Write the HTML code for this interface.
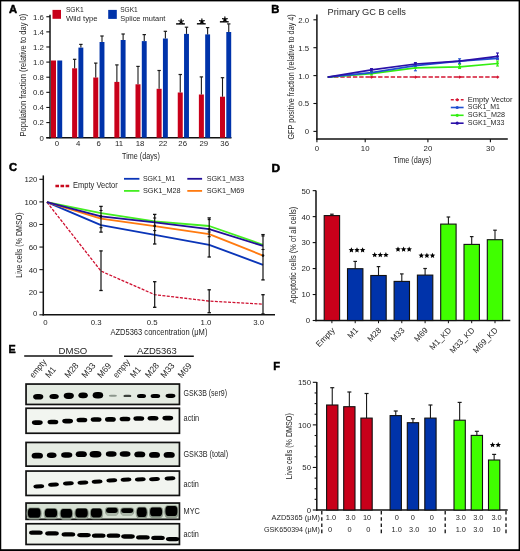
<!DOCTYPE html>
<html><head><meta charset="utf-8"><title>Figure</title>
<style>
html,body{margin:0;padding:0;background:#fff;}
body{width:520px;height:551px;overflow:hidden;}
svg{display:block;font-family:"Liberation Sans",sans-serif;filter:blur(0.35px);}
</style></head><body>
<svg width="520" height="551" viewBox="0 0 520 551">
<defs><filter id="bl" x="-20%" y="-50%" width="140%" height="200%"><feGaussianBlur stdDeviation="0.45"/></filter>
<filter id="bl2" x="-20%" y="-50%" width="140%" height="200%"><feGaussianBlur stdDeviation="0.6"/></filter></defs>
<rect width="520" height="551" fill="#fff"/>
<g fill="#262626">
<text x="8.9" y="13.3" font-size="11.2" font-weight="bold" fill="#000" stroke="#000" stroke-width="0.5">A</text>
<line x1="50" y1="14.8" x2="50" y2="138.4" stroke="#111" stroke-width="1.5" />
<line x1="46.3" y1="137.7" x2="231.5" y2="137.7" stroke="#111" stroke-width="1.5" />
<line x1="46.3" y1="137.7" x2="50" y2="137.7" stroke="#111" stroke-width="1.1" />
<text x="43.9" y="140.6" font-size="7.8" text-anchor="end">0</text>
<line x1="46.3" y1="122.58" x2="50" y2="122.58" stroke="#111" stroke-width="1.1" />
<text x="43.9" y="125.48" font-size="7.8" text-anchor="end">0.2</text>
<line x1="46.3" y1="107.46" x2="50" y2="107.46" stroke="#111" stroke-width="1.1" />
<text x="43.9" y="110.36" font-size="7.8" text-anchor="end">0.4</text>
<line x1="46.3" y1="92.34" x2="50" y2="92.34" stroke="#111" stroke-width="1.1" />
<text x="43.9" y="95.24" font-size="7.8" text-anchor="end">0.6</text>
<line x1="46.3" y1="77.22" x2="50" y2="77.22" stroke="#111" stroke-width="1.1" />
<text x="43.9" y="80.12" font-size="7.8" text-anchor="end">0.8</text>
<line x1="46.3" y1="62.1" x2="50" y2="62.1" stroke="#111" stroke-width="1.1" />
<text x="43.9" y="65" font-size="7.8" text-anchor="end">1.0</text>
<line x1="46.3" y1="46.98" x2="50" y2="46.98" stroke="#111" stroke-width="1.1" />
<text x="43.9" y="49.88" font-size="7.8" text-anchor="end">1.2</text>
<line x1="46.3" y1="31.86" x2="50" y2="31.86" stroke="#111" stroke-width="1.1" />
<text x="43.9" y="34.76" font-size="7.8" text-anchor="end">1.4</text>
<line x1="46.3" y1="16.74" x2="50" y2="16.74" stroke="#111" stroke-width="1.1" />
<text x="43.9" y="19.64" font-size="7.8" text-anchor="end">1.6</text>
<rect x="51" y="60.5" width="5" height="77.2" fill="#c8001a" />
<rect x="57.3" y="60.5" width="4.9" height="77.2" fill="#0033aa" />
<text x="56.9" y="146.4" font-size="7.8" text-anchor="middle">0</text>
<rect x="72.12" y="68.3" width="5" height="69.4" fill="#c8001a" />
<rect x="78.42" y="47.6" width="4.9" height="90.1" fill="#0033aa" />
<line x1="74.62" y1="59.3" x2="74.62" y2="68.3" stroke="#1a1a1a" stroke-width="1.1" />
<line x1="72.92" y1="59.3" x2="76.33" y2="59.3" stroke="#1a1a1a" stroke-width="1.2" />
<line x1="80.88" y1="44.4" x2="80.88" y2="47.6" stroke="#1a1a1a" stroke-width="1.1" />
<line x1="79.17" y1="44.4" x2="82.58" y2="44.4" stroke="#1a1a1a" stroke-width="1.2" />
<text x="78.1" y="146.4" font-size="7.8" text-anchor="middle">4</text>
<rect x="93.25" y="77.5" width="5" height="60.2" fill="#c8001a" />
<rect x="99.55" y="42" width="4.9" height="95.7" fill="#0033aa" />
<line x1="95.75" y1="63.1" x2="95.75" y2="77.5" stroke="#1a1a1a" stroke-width="1.1" />
<line x1="94.05" y1="63.1" x2="97.45" y2="63.1" stroke="#1a1a1a" stroke-width="1.2" />
<line x1="102" y1="36" x2="102" y2="42" stroke="#1a1a1a" stroke-width="1.1" />
<line x1="100.3" y1="36" x2="103.7" y2="36" stroke="#1a1a1a" stroke-width="1.2" />
<text x="98.7" y="146.4" font-size="7.8" text-anchor="middle">6</text>
<rect x="114.38" y="81.9" width="5" height="55.8" fill="#c8001a" />
<rect x="120.67" y="40" width="4.9" height="97.7" fill="#0033aa" />
<line x1="116.88" y1="64.9" x2="116.88" y2="81.9" stroke="#1a1a1a" stroke-width="1.1" />
<line x1="115.17" y1="64.9" x2="118.58" y2="64.9" stroke="#1a1a1a" stroke-width="1.2" />
<line x1="123.12" y1="34" x2="123.12" y2="40" stroke="#1a1a1a" stroke-width="1.1" />
<line x1="121.42" y1="34" x2="124.83" y2="34" stroke="#1a1a1a" stroke-width="1.2" />
<text x="119" y="146.4" font-size="7.8" text-anchor="middle">11</text>
<rect x="135.5" y="84.3" width="5" height="53.4" fill="#c8001a" />
<rect x="141.8" y="41.1" width="4.9" height="96.6" fill="#0033aa" />
<line x1="138" y1="66.4" x2="138" y2="84.3" stroke="#1a1a1a" stroke-width="1.1" />
<line x1="136.3" y1="66.4" x2="139.7" y2="66.4" stroke="#1a1a1a" stroke-width="1.2" />
<line x1="144.25" y1="34.6" x2="144.25" y2="41.1" stroke="#1a1a1a" stroke-width="1.1" />
<line x1="142.55" y1="34.6" x2="145.95" y2="34.6" stroke="#1a1a1a" stroke-width="1.2" />
<text x="140" y="146.4" font-size="7.8" text-anchor="middle">18</text>
<rect x="156.62" y="88.8" width="5" height="48.9" fill="#c8001a" />
<rect x="162.93" y="38.5" width="4.9" height="99.2" fill="#0033aa" />
<line x1="159.12" y1="70.5" x2="159.12" y2="88.8" stroke="#1a1a1a" stroke-width="1.1" />
<line x1="157.43" y1="70.5" x2="160.82" y2="70.5" stroke="#1a1a1a" stroke-width="1.2" />
<line x1="165.38" y1="31.3" x2="165.38" y2="38.5" stroke="#1a1a1a" stroke-width="1.1" />
<line x1="163.68" y1="31.3" x2="167.07" y2="31.3" stroke="#1a1a1a" stroke-width="1.2" />
<text x="163.1" y="146.4" font-size="7.8" text-anchor="middle">22</text>
<rect x="177.75" y="92.5" width="5" height="45.2" fill="#c8001a" />
<rect x="184.05" y="33.9" width="4.9" height="103.8" fill="#0033aa" />
<line x1="180.25" y1="74.5" x2="180.25" y2="92.5" stroke="#1a1a1a" stroke-width="1.1" />
<line x1="178.55" y1="74.5" x2="181.95" y2="74.5" stroke="#1a1a1a" stroke-width="1.2" />
<line x1="186.5" y1="27.2" x2="186.5" y2="33.9" stroke="#1a1a1a" stroke-width="1.1" />
<line x1="184.8" y1="27.2" x2="188.2" y2="27.2" stroke="#1a1a1a" stroke-width="1.2" />
<text x="182.7" y="146.4" font-size="7.8" text-anchor="middle">26</text>
<rect x="198.88" y="94.5" width="5" height="43.2" fill="#c8001a" />
<rect x="205.18" y="34.4" width="4.9" height="103.3" fill="#0033aa" />
<line x1="201.38" y1="76.9" x2="201.38" y2="94.5" stroke="#1a1a1a" stroke-width="1.1" />
<line x1="199.68" y1="76.9" x2="203.07" y2="76.9" stroke="#1a1a1a" stroke-width="1.2" />
<line x1="207.62" y1="27.6" x2="207.62" y2="34.4" stroke="#1a1a1a" stroke-width="1.1" />
<line x1="205.93" y1="27.6" x2="209.32" y2="27.6" stroke="#1a1a1a" stroke-width="1.2" />
<text x="203.8" y="146.4" font-size="7.8" text-anchor="middle">29</text>
<rect x="220" y="96.7" width="5" height="41" fill="#c8001a" />
<rect x="226.3" y="32" width="4.9" height="105.7" fill="#0033aa" />
<line x1="222.5" y1="77.7" x2="222.5" y2="96.7" stroke="#1a1a1a" stroke-width="1.1" />
<line x1="220.8" y1="77.7" x2="224.2" y2="77.7" stroke="#1a1a1a" stroke-width="1.2" />
<line x1="228.75" y1="23.9" x2="228.75" y2="32" stroke="#1a1a1a" stroke-width="1.1" />
<line x1="227.05" y1="23.9" x2="230.45" y2="23.9" stroke="#1a1a1a" stroke-width="1.2" />
<text x="224.7" y="146.4" font-size="7.8" text-anchor="middle">36</text>
<line x1="176.1" y1="23.9" x2="184.9" y2="23.9" stroke="#111" stroke-width="1.5" />
<path d="M181.1 21.5L181.1 19M181.1 21.5L183.48 20.73M181.1 21.5L182.57 23.52M181.1 21.5L179.63 23.52M181.1 21.5L178.72 20.73" stroke="#000" stroke-width="1.15" stroke-linecap="round" fill="none"/>
<line x1="196.9" y1="23.8" x2="205.7" y2="23.8" stroke="#111" stroke-width="1.5" />
<path d="M201.9 21.4L201.9 18.9M201.9 21.4L204.28 20.63M201.9 21.4L203.37 23.42M201.9 21.4L200.43 23.42M201.9 21.4L199.52 20.63" stroke="#000" stroke-width="1.15" stroke-linecap="round" fill="none"/>
<line x1="219.9" y1="21.8" x2="228.7" y2="21.8" stroke="#111" stroke-width="1.5" />
<path d="M224.9 19.4L224.9 16.9M224.9 19.4L227.28 18.63M224.9 19.4L226.37 21.42M224.9 19.4L223.43 21.42M224.9 19.4L222.52 18.63" stroke="#000" stroke-width="1.15" stroke-linecap="round" fill="none"/>
<text x="122.1" y="158.8" font-size="9.9" textLength="37.7" lengthAdjust="spacingAndGlyphs">Time (days)</text>
<text x="26.2" y="136.4" font-size="9.6" textLength="122.6" lengthAdjust="spacingAndGlyphs" transform="rotate(-90 26.2 136.4)">Population fraction (relative to day 0)</text>
<rect x="52.5" y="9.9" width="8.5" height="8.9" fill="#c8001a" />
<text x="65.9" y="12.4" font-size="7.8" textLength="17.9" lengthAdjust="spacingAndGlyphs">SGK1</text>
<text x="65.9" y="20.8" font-size="7.8" textLength="31.7" lengthAdjust="spacingAndGlyphs">Wild type</text>
<rect x="108.2" y="9.9" width="8.6" height="9" fill="#0033aa" />
<text x="120.2" y="12.4" font-size="7.8" textLength="17.6" lengthAdjust="spacingAndGlyphs">SGK1</text>
<text x="120.2" y="21" font-size="7.8" textLength="45.2" lengthAdjust="spacingAndGlyphs">Splice mutant</text>
<text x="271.2" y="13" font-size="11.2" font-weight="bold" fill="#000" stroke="#000" stroke-width="0.5">B</text>
<text x="327.6" y="15" font-size="9.9" textLength="78.3" lengthAdjust="spacingAndGlyphs">Primary GC B cells</text>
<line x1="316.9" y1="14.4" x2="316.9" y2="139.8" stroke="#111" stroke-width="1.5" />
<line x1="316.2" y1="139.1" x2="507.8" y2="139.1" stroke="#111" stroke-width="1.5" />
<line x1="313.4" y1="19.8" x2="316.9" y2="19.8" stroke="#111" stroke-width="1.1" />
<text x="309.2" y="22.7" font-size="7.8" text-anchor="end">2.0</text>
<line x1="313.4" y1="47.7" x2="316.9" y2="47.7" stroke="#111" stroke-width="1.1" />
<text x="309.2" y="50.6" font-size="7.8" text-anchor="end">1.5</text>
<line x1="313.4" y1="75.6" x2="316.9" y2="75.6" stroke="#111" stroke-width="1.1" />
<text x="309.2" y="78.5" font-size="7.8" text-anchor="end">1.0</text>
<line x1="313.4" y1="103.5" x2="316.9" y2="103.5" stroke="#111" stroke-width="1.1" />
<text x="309.2" y="106.4" font-size="7.8" text-anchor="end">0.5</text>
<line x1="313.4" y1="131.4" x2="316.9" y2="131.4" stroke="#111" stroke-width="1.1" />
<text x="309.2" y="134.3" font-size="7.8" text-anchor="end">0</text>
<line x1="316.9" y1="139.1" x2="316.9" y2="142.2" stroke="#111" stroke-width="1.1" />
<text x="316.9" y="151.3" font-size="7.8" text-anchor="middle">0</text>
<line x1="365.2" y1="139.1" x2="365.2" y2="142.2" stroke="#111" stroke-width="1.1" />
<text x="365.2" y="151.3" font-size="7.8" text-anchor="middle">10</text>
<line x1="427.9" y1="139.1" x2="427.9" y2="142.2" stroke="#111" stroke-width="1.1" />
<text x="427.9" y="151.3" font-size="7.8" text-anchor="middle">20</text>
<line x1="490.4" y1="139.1" x2="490.4" y2="142.2" stroke="#111" stroke-width="1.1" />
<text x="490.4" y="151.3" font-size="7.8" text-anchor="middle">30</text>
<text x="393.5" y="163.1" font-size="9.9" textLength="37.9" lengthAdjust="spacingAndGlyphs">Time (days)</text>
<text x="293.6" y="139.6" font-size="9.6" textLength="125.4" lengthAdjust="spacingAndGlyphs" transform="rotate(-90 293.6 139.6)">GFP positive fraction (relative to day 4)</text>
<polyline points="327.7,77.1 371.5,77.1 415.4,77.1 459.6,77.1 497.5,77.1" fill="none" stroke="#d41432" stroke-width="1.5" stroke-linejoin="round" stroke-dasharray="4.4 1.9"/>
<path d="M369.5 77.1 l2 -1.6 l2 1.6 l-2 1.6z" fill="#d41432"/>
<path d="M413.4 77.1 l2 -1.6 l2 1.6 l-2 1.6z" fill="#d41432"/>
<path d="M457.6 77.1 l2 -1.6 l2 1.6 l-2 1.6z" fill="#d41432"/>
<path d="M495.5 77.1 l2 -1.6 l2 1.6 l-2 1.6z" fill="#d41432"/>
<polyline points="327.7,77.1 371.5,73.7 415.4,67.9 459.6,66.9 497.5,63.5" fill="none" stroke="#33ee11" stroke-width="1.7" stroke-linejoin="round" />
<polyline points="327.7,77.1 371.5,72.7 415.4,65.6 459.6,61.2 497.5,58.3" fill="none" stroke="#1f4fd0" stroke-width="1.7" stroke-linejoin="round" />
<polyline points="327.7,77.1 371.5,69.8 415.4,64 459.6,61.2 497.5,56.3" fill="none" stroke="#2a10a8" stroke-width="1.7" stroke-linejoin="round" />
<line x1="371.5" y1="68.6" x2="371.5" y2="71.6" stroke="#2a10a8" stroke-width="1" />
<line x1="370" y1="68.6" x2="373" y2="68.6" stroke="#2a10a8" stroke-width="1.1" />
<line x1="370" y1="71.6" x2="373" y2="71.6" stroke="#2a10a8" stroke-width="1.1" />
<line x1="371.5" y1="72.2" x2="371.5" y2="75" stroke="#33ee11" stroke-width="1" />
<line x1="370" y1="72.2" x2="373" y2="72.2" stroke="#33ee11" stroke-width="1.1" />
<line x1="370" y1="75" x2="373" y2="75" stroke="#33ee11" stroke-width="1.1" />
<line x1="415.4" y1="62.6" x2="415.4" y2="66" stroke="#2a10a8" stroke-width="1" />
<line x1="413.9" y1="62.6" x2="416.9" y2="62.6" stroke="#2a10a8" stroke-width="1.1" />
<line x1="413.9" y1="66" x2="416.9" y2="66" stroke="#2a10a8" stroke-width="1.1" />
<line x1="415.4" y1="64.8" x2="415.4" y2="70.8" stroke="#1f4fd0" stroke-width="1" />
<line x1="413.9" y1="64.8" x2="416.9" y2="64.8" stroke="#1f4fd0" stroke-width="1.1" />
<line x1="413.9" y1="70.8" x2="416.9" y2="70.8" stroke="#1f4fd0" stroke-width="1.1" />
<line x1="459.6" y1="58.8" x2="459.6" y2="63.4" stroke="#1f4fd0" stroke-width="1" />
<line x1="458.1" y1="58.8" x2="461.1" y2="58.8" stroke="#1f4fd0" stroke-width="1.1" />
<line x1="458.1" y1="63.4" x2="461.1" y2="63.4" stroke="#1f4fd0" stroke-width="1.1" />
<line x1="459.6" y1="64.5" x2="459.6" y2="68.5" stroke="#33ee11" stroke-width="1" />
<line x1="458.1" y1="64.5" x2="461.1" y2="64.5" stroke="#33ee11" stroke-width="1.1" />
<line x1="458.1" y1="68.5" x2="461.1" y2="68.5" stroke="#33ee11" stroke-width="1.1" />
<line x1="497.5" y1="53" x2="497.5" y2="59.2" stroke="#2a10a8" stroke-width="1" />
<line x1="496" y1="53" x2="499" y2="53" stroke="#2a10a8" stroke-width="1.1" />
<line x1="496" y1="59.2" x2="499" y2="59.2" stroke="#2a10a8" stroke-width="1.1" />
<line x1="497.5" y1="61" x2="497.5" y2="66" stroke="#33ee11" stroke-width="1" />
<line x1="496" y1="61" x2="499" y2="61" stroke="#33ee11" stroke-width="1.1" />
<line x1="496" y1="66" x2="499" y2="66" stroke="#33ee11" stroke-width="1.1" />
<circle cx="371.5" cy="73.7" r="1.4" fill="#33ee11"/>
<circle cx="415.4" cy="67.9" r="1.4" fill="#33ee11"/>
<circle cx="459.6" cy="66.9" r="1.4" fill="#33ee11"/>
<circle cx="497.5" cy="63.5" r="1.4" fill="#33ee11"/>
<circle cx="371.5" cy="72.7" r="1.4" fill="#1f4fd0"/>
<circle cx="415.4" cy="65.6" r="1.4" fill="#1f4fd0"/>
<circle cx="459.6" cy="61.2" r="1.4" fill="#1f4fd0"/>
<circle cx="497.5" cy="58.3" r="1.4" fill="#1f4fd0"/>
<circle cx="371.5" cy="69.8" r="1.4" fill="#2a10a8"/>
<circle cx="415.4" cy="64" r="1.4" fill="#2a10a8"/>
<circle cx="459.6" cy="61.2" r="1.4" fill="#2a10a8"/>
<circle cx="497.5" cy="56.3" r="1.4" fill="#2a10a8"/>
<line x1="450.8" y1="99.7" x2="463.6" y2="99.7" stroke="#d41432" stroke-width="1.6" stroke-dasharray="3 2"/>
<path d="M455.2 99.7 l2 -1.7 l2 1.7 l-2 1.7z" fill="#d41432"/>
<text x="467.8" y="101.6" font-size="7.2" textLength="44.7" lengthAdjust="spacingAndGlyphs">Empty Vector</text>
<line x1="450.8" y1="107.5" x2="463.6" y2="107.5" stroke="#1f4fd0" stroke-width="1.6" />
<circle cx="457.2" cy="107.5" r="1.6" fill="#1f4fd0"/>
<text x="467.8" y="109.4" font-size="7.2" textLength="32" lengthAdjust="spacingAndGlyphs">SGK1_M1</text>
<line x1="450.8" y1="115.3" x2="463.6" y2="115.3" stroke="#33ee11" stroke-width="1.6" />
<circle cx="457.2" cy="115.3" r="1.6" fill="#33ee11"/>
<text x="467.8" y="117.2" font-size="7.2" textLength="37.2" lengthAdjust="spacingAndGlyphs">SGK1_M28</text>
<line x1="450.8" y1="123.2" x2="463.6" y2="123.2" stroke="#2a10a8" stroke-width="1.6" />
<circle cx="457.2" cy="123.2" r="1.6" fill="#2a10a8"/>
<text x="467.8" y="125.1" font-size="7.2" textLength="36.6" lengthAdjust="spacingAndGlyphs">SGK1_M33</text>
<text x="8.9" y="171.2" font-size="11.2" font-weight="bold" fill="#000" stroke="#000" stroke-width="0.5">C</text>
<line x1="43.3" y1="175.4" x2="43.3" y2="315.5" stroke="#111" stroke-width="1.5" />
<line x1="42.6" y1="314.8" x2="275" y2="314.8" stroke="#111" stroke-width="1.5" />
<line x1="39.4" y1="314.8" x2="43.3" y2="314.8" stroke="#111" stroke-width="1.1" />
<text x="37.4" y="315.8" font-size="7.8" text-anchor="end">0</text>
<line x1="39.4" y1="292.22" x2="43.3" y2="292.22" stroke="#111" stroke-width="1.1" />
<text x="37.4" y="295.12" font-size="7.8" text-anchor="end">20</text>
<line x1="39.4" y1="269.64" x2="43.3" y2="269.64" stroke="#111" stroke-width="1.1" />
<text x="37.4" y="272.54" font-size="7.8" text-anchor="end">40</text>
<line x1="39.4" y1="247.06" x2="43.3" y2="247.06" stroke="#111" stroke-width="1.1" />
<text x="37.4" y="249.96" font-size="7.8" text-anchor="end">60</text>
<line x1="39.4" y1="224.48" x2="43.3" y2="224.48" stroke="#111" stroke-width="1.1" />
<text x="37.4" y="227.38" font-size="7.8" text-anchor="end">80</text>
<line x1="39.4" y1="201.9" x2="43.3" y2="201.9" stroke="#111" stroke-width="1.1" />
<text x="37.4" y="204.8" font-size="7.8" text-anchor="end">100</text>
<line x1="39.4" y1="179.32" x2="43.3" y2="179.32" stroke="#111" stroke-width="1.1" />
<text x="37.4" y="182.22" font-size="7.8" text-anchor="end">120</text>
<text x="45.3" y="324.5" font-size="7.8" text-anchor="middle">0</text>
<text x="96.1" y="324.5" font-size="7.8" text-anchor="middle">0.3</text>
<text x="152.1" y="324.5" font-size="7.8" text-anchor="middle">0.5</text>
<text x="206" y="324.5" font-size="7.8" text-anchor="middle">1.0</text>
<text x="258.6" y="324.5" font-size="7.8" text-anchor="middle">3.0</text>
<text x="110.4" y="334.8" font-size="9.6" textLength="97" lengthAdjust="spacingAndGlyphs">AZD5363 concentration (μM)</text>
<text x="22.4" y="277.8" font-size="9.4" textLength="65.4" lengthAdjust="spacingAndGlyphs" transform="rotate(-90 22.4 277.8)">Live cells (% DMSO)</text>
<polyline points="46.9,202.2 101,271.1 154.7,294.7 209.2,301.1 263,304.1" fill="none" stroke="#cf1030" stroke-width="1.3" stroke-linejoin="round" stroke-dasharray="3.0 1.4"/>
<polyline points="46.9,202.2 101,213.1 154.7,221.4 209.2,226 263,244.8" fill="none" stroke="#44ee22" stroke-width="1.85" stroke-linejoin="round" />
<polyline points="46.9,202.2 101,225.2 154.7,234.9 209.2,244.8 263,264.8" fill="none" stroke="#0a35b8" stroke-width="1.85" stroke-linejoin="round" />
<polyline points="46.9,202.2 101,218.7 154.7,226.1 209.2,234.1 263,255.6" fill="none" stroke="#ff7a10" stroke-width="1.85" stroke-linejoin="round" />
<polyline points="46.9,202.2 101,216.4 154.7,222.4 209.2,229.2 263,245.9" fill="none" stroke="#22109a" stroke-width="1.85" stroke-linejoin="round" />
<line x1="101" y1="206.4" x2="101" y2="232.1" stroke="#111" stroke-width="1.2" />
<line x1="99.3" y1="206.4" x2="102.7" y2="206.4" stroke="#111" stroke-width="1.3" />
<line x1="99.3" y1="232.1" x2="102.7" y2="232.1" stroke="#111" stroke-width="1.3" />
<line x1="101" y1="250.9" x2="101" y2="290.5" stroke="#111" stroke-width="1.2" />
<line x1="99.3" y1="250.9" x2="102.7" y2="250.9" stroke="#111" stroke-width="1.3" />
<line x1="99.3" y1="290.5" x2="102.7" y2="290.5" stroke="#111" stroke-width="1.3" />
<line x1="154.7" y1="214.4" x2="154.7" y2="244" stroke="#111" stroke-width="1.2" />
<line x1="153" y1="214.4" x2="156.4" y2="214.4" stroke="#111" stroke-width="1.3" />
<line x1="153" y1="244" x2="156.4" y2="244" stroke="#111" stroke-width="1.3" />
<line x1="154.7" y1="281.7" x2="154.7" y2="307.3" stroke="#111" stroke-width="1.2" />
<line x1="153" y1="281.7" x2="156.4" y2="281.7" stroke="#111" stroke-width="1.3" />
<line x1="153" y1="307.3" x2="156.4" y2="307.3" stroke="#111" stroke-width="1.3" />
<line x1="209.2" y1="217.9" x2="209.2" y2="257" stroke="#111" stroke-width="1.2" />
<line x1="207.5" y1="217.9" x2="210.9" y2="217.9" stroke="#111" stroke-width="1.3" />
<line x1="207.5" y1="257" x2="210.9" y2="257" stroke="#111" stroke-width="1.3" />
<line x1="209.2" y1="289.8" x2="209.2" y2="312.7" stroke="#111" stroke-width="1.2" />
<line x1="207.5" y1="289.8" x2="210.9" y2="289.8" stroke="#111" stroke-width="1.3" />
<line x1="207.5" y1="312.7" x2="210.9" y2="312.7" stroke="#111" stroke-width="1.3" />
<line x1="263" y1="234.6" x2="263" y2="279.9" stroke="#111" stroke-width="1.2" />
<line x1="261.3" y1="234.6" x2="264.7" y2="234.6" stroke="#111" stroke-width="1.3" />
<line x1="261.3" y1="279.9" x2="264.7" y2="279.9" stroke="#111" stroke-width="1.3" />
<line x1="263" y1="294.7" x2="263" y2="314" stroke="#111" stroke-width="1.2" />
<line x1="261.3" y1="294.7" x2="264.7" y2="294.7" stroke="#111" stroke-width="1.3" />
<line x1="261.3" y1="314" x2="264.7" y2="314" stroke="#111" stroke-width="1.3" />
<line x1="99.5" y1="210.5" x2="102.5" y2="210.5" stroke="#111" stroke-width="1.1" />
<line x1="99.5" y1="227.7" x2="102.5" y2="227.7" stroke="#111" stroke-width="1.1" />
<line x1="153.2" y1="218" x2="156.2" y2="218" stroke="#111" stroke-width="1.1" />
<line x1="153.2" y1="230.6" x2="156.2" y2="230.6" stroke="#111" stroke-width="1.1" />
<line x1="207.7" y1="219.6" x2="210.7" y2="219.6" stroke="#111" stroke-width="1.1" />
<line x1="207.7" y1="232" x2="210.7" y2="232" stroke="#111" stroke-width="1.1" />
<line x1="207.7" y1="236.7" x2="210.7" y2="236.7" stroke="#111" stroke-width="1.1" />
<line x1="261.5" y1="236" x2="264.5" y2="236" stroke="#111" stroke-width="1.1" />
<line x1="261.5" y1="249.5" x2="264.5" y2="249.5" stroke="#111" stroke-width="1.1" />
<circle cx="154.7" cy="225.9" r="1.3" fill="#111"/>
<circle cx="263" cy="255.6" r="1.3" fill="#111"/>
<circle cx="101" cy="216.4" r="1.3" fill="#111"/>
<circle cx="209.2" cy="229.2" r="1.3" fill="#111"/>
<line x1="55.4" y1="186" x2="70.2" y2="186" stroke="#c80a1e" stroke-width="2.3" stroke-dasharray="3.6 1.5"/>
<text x="73.1" y="188.3" font-size="8.3" textLength="44.6" lengthAdjust="spacingAndGlyphs">Empty Vector</text>
<line x1="124" y1="178.8" x2="139.4" y2="178.8" stroke="#0a35b8" stroke-width="1.8" />
<text x="142.9" y="181.2" font-size="7.6" textLength="32.3" lengthAdjust="spacingAndGlyphs">SGK1_M1</text>
<line x1="124" y1="190.9" x2="139.4" y2="190.9" stroke="#44ee22" stroke-width="1.8" />
<text x="142.9" y="193.3" font-size="7.6" textLength="37.7" lengthAdjust="spacingAndGlyphs">SGK1_M28</text>
<line x1="187.3" y1="178.8" x2="202.1" y2="178.8" stroke="#22109a" stroke-width="1.8" />
<text x="206.7" y="181.2" font-size="7.6" textLength="37.2" lengthAdjust="spacingAndGlyphs">SGK1_M33</text>
<line x1="187.3" y1="190.9" x2="202.1" y2="190.9" stroke="#ff7a10" stroke-width="1.8" />
<text x="206.7" y="193.3" font-size="7.6" textLength="37.7" lengthAdjust="spacingAndGlyphs">SGK1_M69</text>
<text x="271.4" y="172.3" font-size="11.6" textLength="8.6" lengthAdjust="spacingAndGlyphs" font-weight="bold" fill="#000" stroke="#000" stroke-width="0.5">D</text>
<line x1="316" y1="190.4" x2="316" y2="321.2" stroke="#111" stroke-width="1.5" />
<line x1="315.3" y1="320.5" x2="510.3" y2="320.5" stroke="#111" stroke-width="1.5" />
<line x1="312.7" y1="320.5" x2="316" y2="320.5" stroke="#111" stroke-width="1.1" />
<text x="310.2" y="323.4" font-size="7.8" text-anchor="end">0</text>
<line x1="312.7" y1="294.53" x2="316" y2="294.53" stroke="#111" stroke-width="1.1" />
<text x="310.2" y="297.43" font-size="7.8" text-anchor="end">10</text>
<line x1="312.7" y1="268.56" x2="316" y2="268.56" stroke="#111" stroke-width="1.1" />
<text x="310.2" y="271.46" font-size="7.8" text-anchor="end">20</text>
<line x1="312.7" y1="242.59" x2="316" y2="242.59" stroke="#111" stroke-width="1.1" />
<text x="310.2" y="245.49" font-size="7.8" text-anchor="end">30</text>
<line x1="312.7" y1="216.62" x2="316" y2="216.62" stroke="#111" stroke-width="1.1" />
<text x="310.2" y="219.52" font-size="7.8" text-anchor="end">40</text>
<line x1="312.7" y1="190.65" x2="316" y2="190.65" stroke="#111" stroke-width="1.1" />
<text x="310.2" y="193.55" font-size="7.8" text-anchor="end">50</text>
<line x1="331.9" y1="214.2" x2="331.9" y2="215.6" stroke="#1a1a1a" stroke-width="1.1" />
<line x1="330.1" y1="214.2" x2="333.7" y2="214.2" stroke="#1a1a1a" stroke-width="1.2" />
<rect x="324.2" y="215.6" width="15.4" height="104.9" fill="#c8001a" stroke="#111" stroke-width="1.1" />
<line x1="331.9" y1="320.5" x2="331.9" y2="323.2" stroke="#111" stroke-width="1" />
<text x="335.3" y="330.8" font-size="8.2" text-anchor="end" transform="rotate(-46 335.3 330.8)">Empty</text>
<line x1="355.2" y1="261.4" x2="355.2" y2="268.7" stroke="#1a1a1a" stroke-width="1.1" />
<line x1="353.4" y1="261.4" x2="357" y2="261.4" stroke="#1a1a1a" stroke-width="1.2" />
<rect x="347.5" y="268.7" width="15.4" height="51.8" fill="#0033aa" stroke="#111" stroke-width="1.1" />
<line x1="355.2" y1="320.5" x2="355.2" y2="323.2" stroke="#111" stroke-width="1" />
<polygon points="351.4,247.3 352.19,249.11 354.16,249.3 352.68,250.62 353.1,252.55 351.4,251.55 349.7,252.55 350.12,250.62 348.64,249.3 350.61,249.11" fill="#000"/>
<polygon points="357,247.3 357.79,249.11 359.76,249.3 358.28,250.62 358.7,252.55 357,251.55 355.3,252.55 355.72,250.62 354.24,249.3 356.21,249.11" fill="#000"/>
<polygon points="362.6,247.3 363.39,249.11 365.36,249.3 363.88,250.62 364.3,252.55 362.6,251.55 360.9,252.55 361.32,250.62 359.84,249.3 361.81,249.11" fill="#000"/>
<text x="358.6" y="330.8" font-size="8.2" text-anchor="end" transform="rotate(-46 358.6 330.8)">M1</text>
<line x1="378.5" y1="266.6" x2="378.5" y2="275.5" stroke="#1a1a1a" stroke-width="1.1" />
<line x1="376.7" y1="266.6" x2="380.3" y2="266.6" stroke="#1a1a1a" stroke-width="1.2" />
<rect x="370.8" y="275.5" width="15.4" height="45" fill="#0033aa" stroke="#111" stroke-width="1.1" />
<line x1="378.5" y1="320.5" x2="378.5" y2="323.2" stroke="#111" stroke-width="1" />
<polygon points="374.7,252.1 375.49,253.91 377.46,254.1 375.98,255.42 376.4,257.35 374.7,256.35 373,257.35 373.42,255.42 371.94,254.1 373.91,253.91" fill="#000"/>
<polygon points="380.3,252.1 381.09,253.91 383.06,254.1 381.58,255.42 382,257.35 380.3,256.35 378.6,257.35 379.02,255.42 377.54,254.1 379.51,253.91" fill="#000"/>
<polygon points="385.9,252.1 386.69,253.91 388.66,254.1 387.18,255.42 387.6,257.35 385.9,256.35 384.2,257.35 384.62,255.42 383.14,254.1 385.11,253.91" fill="#000"/>
<text x="381.9" y="330.8" font-size="8.2" text-anchor="end" transform="rotate(-46 381.9 330.8)">M28</text>
<line x1="401.8" y1="273.9" x2="401.8" y2="281.4" stroke="#1a1a1a" stroke-width="1.1" />
<line x1="400" y1="273.9" x2="403.6" y2="273.9" stroke="#1a1a1a" stroke-width="1.2" />
<rect x="394.1" y="281.4" width="15.4" height="39.1" fill="#0033aa" stroke="#111" stroke-width="1.1" />
<line x1="401.8" y1="320.5" x2="401.8" y2="323.2" stroke="#111" stroke-width="1" />
<polygon points="398,246.4 398.79,248.21 400.76,248.4 399.28,249.72 399.7,251.65 398,250.65 396.3,251.65 396.72,249.72 395.24,248.4 397.21,248.21" fill="#000"/>
<polygon points="403.6,246.4 404.39,248.21 406.36,248.4 404.88,249.72 405.3,251.65 403.6,250.65 401.9,251.65 402.32,249.72 400.84,248.4 402.81,248.21" fill="#000"/>
<polygon points="409.2,246.4 409.99,248.21 411.96,248.4 410.48,249.72 410.9,251.65 409.2,250.65 407.5,251.65 407.92,249.72 406.44,248.4 408.41,248.21" fill="#000"/>
<text x="405.2" y="330.8" font-size="8.2" text-anchor="end" transform="rotate(-46 405.2 330.8)">M33</text>
<line x1="425.1" y1="268.5" x2="425.1" y2="275.1" stroke="#1a1a1a" stroke-width="1.1" />
<line x1="423.3" y1="268.5" x2="426.9" y2="268.5" stroke="#1a1a1a" stroke-width="1.2" />
<rect x="417.4" y="275.1" width="15.4" height="45.4" fill="#0033aa" stroke="#111" stroke-width="1.1" />
<line x1="425.1" y1="320.5" x2="425.1" y2="323.2" stroke="#111" stroke-width="1" />
<polygon points="421.3,252.8 422.09,254.61 424.06,254.8 422.58,256.12 423,258.05 421.3,257.05 419.6,258.05 420.02,256.12 418.54,254.8 420.51,254.61" fill="#000"/>
<polygon points="426.9,252.8 427.69,254.61 429.66,254.8 428.18,256.12 428.6,258.05 426.9,257.05 425.2,258.05 425.62,256.12 424.14,254.8 426.11,254.61" fill="#000"/>
<polygon points="432.5,252.8 433.29,254.61 435.26,254.8 433.78,256.12 434.2,258.05 432.5,257.05 430.8,258.05 431.22,256.12 429.74,254.8 431.71,254.61" fill="#000"/>
<text x="428.5" y="330.8" font-size="8.2" text-anchor="end" transform="rotate(-46 428.5 330.8)">M69</text>
<line x1="448.4" y1="217" x2="448.4" y2="224.1" stroke="#1a1a1a" stroke-width="1.1" />
<line x1="446.6" y1="217" x2="450.2" y2="217" stroke="#1a1a1a" stroke-width="1.2" />
<rect x="440.7" y="224.1" width="15.4" height="96.4" fill="#40ff00" stroke="#111" stroke-width="1.1" />
<line x1="448.4" y1="320.5" x2="448.4" y2="323.2" stroke="#111" stroke-width="1" />
<text x="451.8" y="330.8" font-size="8.2" text-anchor="end" transform="rotate(-46 451.8 330.8)">M1_KD</text>
<line x1="471.7" y1="236.6" x2="471.7" y2="244.4" stroke="#1a1a1a" stroke-width="1.1" />
<line x1="469.9" y1="236.6" x2="473.5" y2="236.6" stroke="#1a1a1a" stroke-width="1.2" />
<rect x="464" y="244.4" width="15.4" height="76.1" fill="#40ff00" stroke="#111" stroke-width="1.1" />
<line x1="471.7" y1="320.5" x2="471.7" y2="323.2" stroke="#111" stroke-width="1" />
<text x="475.1" y="330.8" font-size="8.2" text-anchor="end" transform="rotate(-46 475.1 330.8)">M33_KD</text>
<line x1="495" y1="230.2" x2="495" y2="239.7" stroke="#1a1a1a" stroke-width="1.1" />
<line x1="493.2" y1="230.2" x2="496.8" y2="230.2" stroke="#1a1a1a" stroke-width="1.2" />
<rect x="487.3" y="239.7" width="15.4" height="80.8" fill="#40ff00" stroke="#111" stroke-width="1.1" />
<line x1="495" y1="320.5" x2="495" y2="323.2" stroke="#111" stroke-width="1" />
<text x="498.4" y="330.8" font-size="8.2" text-anchor="end" transform="rotate(-46 498.4 330.8)">M69_KD</text>
<text x="296.2" y="303.4" font-size="9.2" textLength="96.7" lengthAdjust="spacingAndGlyphs" transform="rotate(-90 296.2 303.4)">Apoptotic cells (% of all cells)</text>
<text x="8.6" y="352.5" font-size="11.6" textLength="7.2" lengthAdjust="spacingAndGlyphs" font-weight="bold" fill="#000" stroke="#000" stroke-width="0.5">E</text>
<text x="58.5" y="353.8" font-size="9.4" textLength="28.8" lengthAdjust="spacingAndGlyphs">DMSO</text>
<line x1="24.2" y1="356" x2="112.5" y2="356" stroke="#111" stroke-width="1.5" />
<text x="136.9" y="353.7" font-size="9.4" textLength="40" lengthAdjust="spacingAndGlyphs">AZD5363</text>
<line x1="124" y1="356.2" x2="193.8" y2="356.2" stroke="#111" stroke-width="1.5" />
<text x="33.4" y="378.4" font-size="8.8" textLength="21" lengthAdjust="spacingAndGlyphs" transform="rotate(-50 33.4 378.4)">empty</text>
<text x="49.2" y="378.4" font-size="8.8" textLength="11.4" lengthAdjust="spacingAndGlyphs" transform="rotate(-50 49.2 378.4)">M1</text>
<text x="68.4" y="378.4" font-size="8.8" textLength="16.4" lengthAdjust="spacingAndGlyphs" transform="rotate(-50 68.4 378.4)">M28</text>
<text x="85.6" y="378.4" font-size="8.8" textLength="16.4" lengthAdjust="spacingAndGlyphs" transform="rotate(-50 85.6 378.4)">M33</text>
<text x="101.2" y="378.4" font-size="8.8" textLength="16.4" lengthAdjust="spacingAndGlyphs" transform="rotate(-50 101.2 378.4)">M69</text>
<text x="117" y="378.4" font-size="8.8" textLength="21" lengthAdjust="spacingAndGlyphs" transform="rotate(-50 117 378.4)">empty</text>
<text x="134" y="378.4" font-size="8.8" textLength="11.4" lengthAdjust="spacingAndGlyphs" transform="rotate(-50 134 378.4)">M1</text>
<text x="149" y="378.4" font-size="8.8" textLength="16.4" lengthAdjust="spacingAndGlyphs" transform="rotate(-50 149 378.4)">M28</text>
<text x="164.6" y="378.4" font-size="8.8" textLength="16.4" lengthAdjust="spacingAndGlyphs" transform="rotate(-50 164.6 378.4)">M33</text>
<text x="181.8" y="378.4" font-size="8.8" textLength="16.4" lengthAdjust="spacingAndGlyphs" transform="rotate(-50 181.8 378.4)">M69</text>
<rect x="26.05" y="384.05" width="153.4" height="20.4" fill="#e4ebe2" stroke="#111" stroke-width="1.7" />
<rect x="26.05" y="408.25" width="153.4" height="25" fill="#f2f5f0" stroke="#111" stroke-width="1.7" />
<rect x="26.05" y="442.45" width="153.4" height="23.7" fill="#e6ece3" stroke="#111" stroke-width="1.7" />
<rect x="26.05" y="471.05" width="153.4" height="24.4" fill="#f2f5f0" stroke="#111" stroke-width="1.7" />
<rect x="26.05" y="503.05" width="153.4" height="16.3" fill="#d6e0d3" stroke="#111" stroke-width="1.7" />
<rect x="26.05" y="523.75" width="153.4" height="20.7" fill="#eef2ec" stroke="#111" stroke-width="1.7" />
<g filter="url(#bl)">
<rect x="33.1" y="393.9" width="10.2" height="5.6" rx="4" ry="2.8" fill="#050505"/>
<rect x="49.45" y="394" width="9.3" height="5" rx="3.7" ry="2.5" fill="#050505"/>
<rect x="63.7" y="392.7" width="10.2" height="6.2" rx="4.28" ry="3.1" fill="#050505"/>
<rect x="78.35" y="392.4" width="9.5" height="5.8" rx="3.99" ry="2.9" fill="#050505"/>
<rect x="92.65" y="392.1" width="10.5" height="6.4" rx="4.4" ry="3.2" fill="#050505"/>
<rect x="108.9" y="394.85" width="8" height="1.9" rx="2.15" ry="0.95" fill="#8c968c"/>
<rect x="123.4" y="394.7" width="8" height="2.4" rx="2.4" ry="1.2" fill="#3c423c"/>
<rect x="137" y="393.9" width="9" height="4" rx="3.2" ry="2" fill="#050505"/>
<rect x="150.6" y="393.9" width="9.6" height="4" rx="3.2" ry="2" fill="#050505"/>
<rect x="165.6" y="393.65" width="9.8" height="4.3" rx="3.35" ry="2.15" fill="#050505"/>
<rect x="31.9" y="420.3" width="10.8" height="4.6" rx="3.5" ry="2.3" fill="#050505"/>
<rect x="47.5" y="419.7" width="10.8" height="4.6" rx="3.5" ry="2.3" fill="#050505"/>
<rect x="62.2" y="418.8" width="10.8" height="4.6" rx="3.5" ry="2.3" fill="#050505"/>
<rect x="76.5" y="417.7" width="10.8" height="4.6" rx="3.5" ry="2.3" fill="#050505"/>
<rect x="90.7" y="417.2" width="10.8" height="4.6" rx="3.5" ry="2.3" fill="#050505"/>
<rect x="105" y="417.1" width="10.8" height="4.6" rx="3.5" ry="2.3" fill="#050505"/>
<rect x="119.6" y="416.7" width="10.8" height="4.6" rx="3.5" ry="2.3" fill="#050505"/>
<rect x="133.4" y="416.2" width="10.8" height="4.6" rx="3.5" ry="2.3" fill="#050505"/>
<rect x="147.6" y="416" width="10.8" height="4.6" rx="3.5" ry="2.3" fill="#050505"/>
<rect x="162.4" y="415.8" width="10.8" height="4.6" rx="3.5" ry="2.3" fill="#050505"/>
<rect x="31.6" y="452.8" width="11.4" height="5.8" rx="4.1" ry="2.9" fill="#050505"/>
<rect x="46.9" y="452.45" width="9.6" height="5.5" rx="3.95" ry="2.75" fill="#050505"/>
<rect x="61.1" y="452.15" width="11.2" height="5.5" rx="3.95" ry="2.75" fill="#050505"/>
<rect x="75.7" y="451.3" width="11.2" height="5.8" rx="4.1" ry="2.9" fill="#050505"/>
<rect x="89.6" y="451" width="11.8" height="6.4" rx="4.4" ry="3.2" fill="#050505"/>
<rect x="105.8" y="451.2" width="10.8" height="5.6" rx="4" ry="2.8" fill="#050505"/>
<rect x="119.7" y="451.2" width="10.8" height="5.6" rx="4" ry="2.8" fill="#050505"/>
<rect x="134.3" y="451.5" width="11" height="5.8" rx="4.1" ry="2.9" fill="#050505"/>
<rect x="149" y="452" width="11" height="5.8" rx="4.1" ry="2.9" fill="#050505"/>
<rect x="163.6" y="452" width="11.2" height="5.8" rx="4.1" ry="2.9" fill="#050505"/>
<rect x="33.4" y="484.3" width="10.8" height="4" rx="3.2" ry="2" fill="#050505" transform="rotate(-4 38.8 486.3)"/>
<rect x="48.1" y="482.6" width="10.8" height="4" rx="3.2" ry="2" fill="#050505" transform="rotate(-4 53.5 484.6)"/>
<rect x="63" y="481.3" width="10.8" height="4" rx="3.2" ry="2" fill="#050505" transform="rotate(-4 68.4 483.3)"/>
<rect x="77.5" y="480.6" width="10.8" height="4" rx="3.2" ry="2" fill="#050505" transform="rotate(-4 82.9 482.6)"/>
<rect x="91.7" y="479.7" width="10.8" height="4" rx="3.2" ry="2" fill="#050505" transform="rotate(-4 97.1 481.7)"/>
<rect x="106.4" y="478.3" width="10.8" height="4" rx="3.2" ry="2" fill="#050505" transform="rotate(-4 111.8 480.3)"/>
<rect x="120.6" y="477.6" width="10.8" height="4" rx="3.2" ry="2" fill="#050505" transform="rotate(-4 126 479.6)"/>
<rect x="134.9" y="477.3" width="10.8" height="4" rx="3.2" ry="2" fill="#050505" transform="rotate(-4 140.3 479.3)"/>
<rect x="149.1" y="477.1" width="10.8" height="4" rx="3.2" ry="2" fill="#050505" transform="rotate(-4 154.5 479.1)"/>
<rect x="164.6" y="476.3" width="10.8" height="4" rx="3.2" ry="2" fill="#050505" transform="rotate(-4 170 478.3)"/>
</g>
<g filter="url(#bl2)">
<rect x="26.6" y="507.6" width="15.2" height="12" rx="3.2" ry="6" fill="#8e9a8c"/>
<rect x="43.65" y="508" width="14.7" height="11.2" rx="3.2" ry="5.6" fill="#8e9a8c"/>
<rect x="59.4" y="508.3" width="14" height="11.4" rx="3.2" ry="5.7" fill="#8e9a8c"/>
<rect x="74.25" y="507.9" width="14.7" height="11.4" rx="3.2" ry="5.7" fill="#8e9a8c"/>
<rect x="89.6" y="507.9" width="13.6" height="11.4" rx="3.2" ry="5.7" fill="#8e9a8c"/>
<rect x="104.9" y="507" width="14" height="7.8" rx="3.2" ry="3.9" fill="#8e9a8c"/>
<rect x="120.05" y="507.5" width="14.3" height="7.4" rx="3.2" ry="3.7" fill="#8e9a8c"/>
<rect x="135.6" y="506.8" width="12.4" height="12" rx="3.2" ry="6" fill="#8e9a8c"/>
<rect x="148.8" y="506.7" width="14.6" height="11.4" rx="3.2" ry="5.7" fill="#8e9a8c"/>
<rect x="164.15" y="505.2" width="14.5" height="12.8" rx="3.2" ry="6.4" fill="#8e9a8c"/>
<rect x="106.4" y="512" width="11" height="4" rx="1.5" ry="2" fill="#aab6a8"/>
<rect x="121.7" y="512" width="11" height="4" rx="1.5" ry="2" fill="#aab6a8"/>
<rect x="27.8" y="508.3" width="12.8" height="9.4" rx="2.6" ry="4.7" fill="#050505"/>
<rect x="44.85" y="508.7" width="12.3" height="8.6" rx="2.6" ry="4.3" fill="#050505"/>
<rect x="60.6" y="509" width="11.6" height="8.8" rx="2.6" ry="4.4" fill="#050505"/>
<rect x="75.45" y="508.6" width="12.3" height="8.8" rx="2.6" ry="4.4" fill="#050505"/>
<rect x="90.8" y="508.6" width="11.2" height="8.8" rx="2.6" ry="4.4" fill="#050505"/>
<rect x="106.1" y="507.7" width="11.6" height="5.2" rx="2.6" ry="2.6" fill="#050505"/>
<rect x="121.25" y="508.2" width="11.9" height="4.8" rx="2.6" ry="2.4" fill="#050505"/>
<rect x="136.8" y="507.5" width="10" height="9.4" rx="2.6" ry="4.7" fill="#050505"/>
<rect x="150" y="507.4" width="12.2" height="8.8" rx="2.6" ry="4.4" fill="#050505"/>
<rect x="165.35" y="505.9" width="12.1" height="10.2" rx="2.6" ry="5.1" fill="#050505"/>
</g>
<g filter="url(#bl)">
<rect x="29.1" y="530.55" width="13.6" height="4.3" rx="3.35" ry="2.15" fill="#050505"/>
<rect x="45.2" y="531.25" width="13.6" height="4.3" rx="3.35" ry="2.15" fill="#050505"/>
<rect x="61.6" y="532.25" width="13.6" height="4.3" rx="3.35" ry="2.15" fill="#050505"/>
<rect x="77.2" y="532.95" width="13.6" height="4.3" rx="3.35" ry="2.15" fill="#050505"/>
<rect x="91.9" y="533.55" width="13.6" height="4.3" rx="3.35" ry="2.15" fill="#050505"/>
<rect x="106.7" y="533.55" width="13.6" height="4.3" rx="3.35" ry="2.15" fill="#050505"/>
<rect x="121.2" y="534.35" width="13.6" height="4.3" rx="3.35" ry="2.15" fill="#050505"/>
<rect x="136.1" y="535.25" width="13.6" height="4.3" rx="3.35" ry="2.15" fill="#050505"/>
<rect x="151.2" y="535.75" width="13.6" height="4.3" rx="3.35" ry="2.15" fill="#050505"/>
<rect x="165.9" y="536.95" width="13.6" height="4.3" rx="3.35" ry="2.15" fill="#050505"/>
</g>
<text x="183.5" y="395.8" font-size="8.2" textLength="43.5" lengthAdjust="spacingAndGlyphs">GSK3B (ser9)</text>
<text x="183.5" y="420.8" font-size="8.2" textLength="15.7" lengthAdjust="spacingAndGlyphs">actin</text>
<text x="183.5" y="456.5" font-size="8.2" textLength="44.6" lengthAdjust="spacingAndGlyphs">GSK3B (total)</text>
<text x="183.5" y="486.6" font-size="8.2" textLength="15.4" lengthAdjust="spacingAndGlyphs">actin</text>
<text x="183.5" y="514" font-size="8.2" textLength="16.4" lengthAdjust="spacingAndGlyphs">MYC</text>
<text x="183.5" y="536.5" font-size="8.2" textLength="15.4" lengthAdjust="spacingAndGlyphs">actin</text>
<text x="273.2" y="369.9" font-size="11.2" font-weight="bold" fill="#000" stroke="#000" stroke-width="0.5">F</text>
<line x1="316.8" y1="381.9" x2="316.8" y2="510.7" stroke="#111" stroke-width="1.5" />
<line x1="316.1" y1="510" x2="507.7" y2="510" stroke="#111" stroke-width="1.5" />
<line x1="312.8" y1="510" x2="316.8" y2="510" stroke="#111" stroke-width="1.1" />
<text x="311" y="512.9" font-size="7.8" text-anchor="end">0</text>
<line x1="314.6" y1="499.36" x2="316.8" y2="499.36" stroke="#111" stroke-width="1.1" />
<line x1="314.6" y1="488.72" x2="316.8" y2="488.72" stroke="#111" stroke-width="1.1" />
<line x1="314.6" y1="478.08" x2="316.8" y2="478.08" stroke="#111" stroke-width="1.1" />
<line x1="312.8" y1="467.44" x2="316.8" y2="467.44" stroke="#111" stroke-width="1.1" />
<text x="311" y="470.33" font-size="7.8" text-anchor="end">50</text>
<line x1="314.6" y1="456.79" x2="316.8" y2="456.79" stroke="#111" stroke-width="1.1" />
<line x1="314.6" y1="446.15" x2="316.8" y2="446.15" stroke="#111" stroke-width="1.1" />
<line x1="314.6" y1="435.51" x2="316.8" y2="435.51" stroke="#111" stroke-width="1.1" />
<line x1="312.8" y1="424.87" x2="316.8" y2="424.87" stroke="#111" stroke-width="1.1" />
<text x="311" y="427.77" font-size="7.8" text-anchor="end">100</text>
<line x1="314.6" y1="414.23" x2="316.8" y2="414.23" stroke="#111" stroke-width="1.1" />
<line x1="314.6" y1="403.59" x2="316.8" y2="403.59" stroke="#111" stroke-width="1.1" />
<line x1="314.6" y1="392.95" x2="316.8" y2="392.95" stroke="#111" stroke-width="1.1" />
<line x1="312.8" y1="382.31" x2="316.8" y2="382.31" stroke="#111" stroke-width="1.1" />
<text x="311" y="385.2" font-size="7.8" text-anchor="end">150</text>
<line x1="332.25" y1="387.7" x2="332.25" y2="405" stroke="#1a1a1a" stroke-width="1.1" />
<line x1="330.25" y1="387.7" x2="334.25" y2="387.7" stroke="#1a1a1a" stroke-width="1.2" />
<rect x="326.6" y="405" width="11.3" height="105" fill="#c8001a" stroke="#111" stroke-width="1.1" />
<line x1="349.35" y1="392" x2="349.35" y2="406.7" stroke="#1a1a1a" stroke-width="1.1" />
<line x1="347.35" y1="392" x2="351.35" y2="392" stroke="#1a1a1a" stroke-width="1.2" />
<rect x="343.7" y="406.7" width="11.3" height="103.3" fill="#c8001a" stroke="#111" stroke-width="1.1" />
<line x1="366.55" y1="393.5" x2="366.55" y2="418.1" stroke="#1a1a1a" stroke-width="1.1" />
<line x1="364.55" y1="393.5" x2="368.55" y2="393.5" stroke="#1a1a1a" stroke-width="1.2" />
<rect x="360.9" y="418.1" width="11.3" height="91.9" fill="#c8001a" stroke="#111" stroke-width="1.1" />
<line x1="395.75" y1="411" x2="395.75" y2="415.6" stroke="#1a1a1a" stroke-width="1.1" />
<line x1="393.75" y1="411" x2="397.75" y2="411" stroke="#1a1a1a" stroke-width="1.2" />
<rect x="390.1" y="415.6" width="11.3" height="94.4" fill="#0033aa" stroke="#111" stroke-width="1.1" />
<line x1="412.95" y1="418.7" x2="412.95" y2="422.7" stroke="#1a1a1a" stroke-width="1.1" />
<line x1="410.95" y1="418.7" x2="414.95" y2="418.7" stroke="#1a1a1a" stroke-width="1.2" />
<rect x="407.3" y="422.7" width="11.3" height="87.3" fill="#0033aa" stroke="#111" stroke-width="1.1" />
<line x1="430.45" y1="405" x2="430.45" y2="418.1" stroke="#1a1a1a" stroke-width="1.1" />
<line x1="428.45" y1="405" x2="432.45" y2="405" stroke="#1a1a1a" stroke-width="1.2" />
<rect x="424.8" y="418.1" width="11.3" height="91.9" fill="#0033aa" stroke="#111" stroke-width="1.1" />
<line x1="459.65" y1="402.4" x2="459.65" y2="420.2" stroke="#1a1a1a" stroke-width="1.1" />
<line x1="457.65" y1="402.4" x2="461.65" y2="402.4" stroke="#1a1a1a" stroke-width="1.2" />
<rect x="454" y="420.2" width="11.3" height="89.8" fill="#40ff00" stroke="#111" stroke-width="1.1" />
<line x1="476.85" y1="431.3" x2="476.85" y2="435.4" stroke="#1a1a1a" stroke-width="1.1" />
<line x1="474.85" y1="431.3" x2="478.85" y2="431.3" stroke="#1a1a1a" stroke-width="1.2" />
<rect x="471.2" y="435.4" width="11.3" height="74.6" fill="#40ff00" stroke="#111" stroke-width="1.1" />
<line x1="494.15" y1="454.4" x2="494.15" y2="460" stroke="#1a1a1a" stroke-width="1.1" />
<line x1="492.15" y1="454.4" x2="496.15" y2="454.4" stroke="#1a1a1a" stroke-width="1.2" />
<rect x="488.5" y="460" width="11.3" height="50" fill="#40ff00" stroke="#111" stroke-width="1.1" />
<polygon points="492.6,442.1 493.39,443.91 495.36,444.1 493.88,445.42 494.3,447.35 492.6,446.35 490.9,447.35 491.32,445.42 489.84,444.1 491.81,443.91" fill="#000"/>
<polygon points="498.2,442.1 498.99,443.91 500.96,444.1 499.48,445.42 499.9,447.35 498.2,446.35 496.5,447.35 496.92,445.42 495.44,444.1 497.41,443.91" fill="#000"/>
<line x1="321.8" y1="511" x2="321.8" y2="535.5" stroke="#111" stroke-width="1.3" stroke-dasharray="3.6 2.6"/>
<line x1="381.3" y1="511" x2="381.3" y2="535.5" stroke="#111" stroke-width="1.3" stroke-dasharray="3.6 2.6"/>
<line x1="445.2" y1="511" x2="445.2" y2="535.5" stroke="#111" stroke-width="1.3" stroke-dasharray="3.6 2.6"/>
<line x1="506" y1="511" x2="506" y2="535.5" stroke="#111" stroke-width="1.3" stroke-dasharray="3.6 2.6"/>
<text x="320" y="520.3" font-size="7.4" text-anchor="end" textLength="48.5" lengthAdjust="spacingAndGlyphs">AZD5365 (μM)</text>
<text x="320" y="532.4" font-size="7.4" text-anchor="end" textLength="56" lengthAdjust="spacingAndGlyphs">GSK650394 (μM)</text>
<text x="331" y="520.3" font-size="7.4" text-anchor="middle">1.0</text>
<text x="350.6" y="520.3" font-size="7.4" text-anchor="middle">3.0</text>
<text x="367" y="520.3" font-size="7.4" text-anchor="middle">10</text>
<text x="396.7" y="520.3" font-size="7.4" text-anchor="middle">0</text>
<text x="412.8" y="520.3" font-size="7.4" text-anchor="middle">0</text>
<text x="431.7" y="520.3" font-size="7.4" text-anchor="middle">0</text>
<text x="460.8" y="520.3" font-size="7.4" text-anchor="middle">3.0</text>
<text x="478.3" y="520.3" font-size="7.4" text-anchor="middle">3.0</text>
<text x="496.6" y="520.3" font-size="7.4" text-anchor="middle">3.0</text>
<text x="330" y="532.4" font-size="7.4" text-anchor="middle">0</text>
<text x="349.5" y="532.4" font-size="7.4" text-anchor="middle">0</text>
<text x="368.3" y="532.4" font-size="7.4" text-anchor="middle">0</text>
<text x="396.7" y="532.4" font-size="7.4" text-anchor="middle">1.0</text>
<text x="414.2" y="532.4" font-size="7.4" text-anchor="middle">3.0</text>
<text x="432" y="532.4" font-size="7.4" text-anchor="middle">10</text>
<text x="460.8" y="532.4" font-size="7.4" text-anchor="middle">1.0</text>
<text x="478.3" y="532.4" font-size="7.4" text-anchor="middle">3.0</text>
<text x="496.6" y="532.4" font-size="7.4" text-anchor="middle">10</text>
<text x="292.4" y="479.2" font-size="9.2" textLength="66" lengthAdjust="spacingAndGlyphs" transform="rotate(-90 292.4 479.2)">Live cells (% DMSO)</text>
</g>
<rect x="0" y="0" width="520" height="1.4" fill="#000"/><rect x="0" y="0" width="1.25" height="551" fill="#000"/><rect x="518.6" y="0" width="1.4" height="551" fill="#000"/><rect x="0" y="549.2" width="520" height="1.8" fill="#000"/>
</svg>
</body></html>
